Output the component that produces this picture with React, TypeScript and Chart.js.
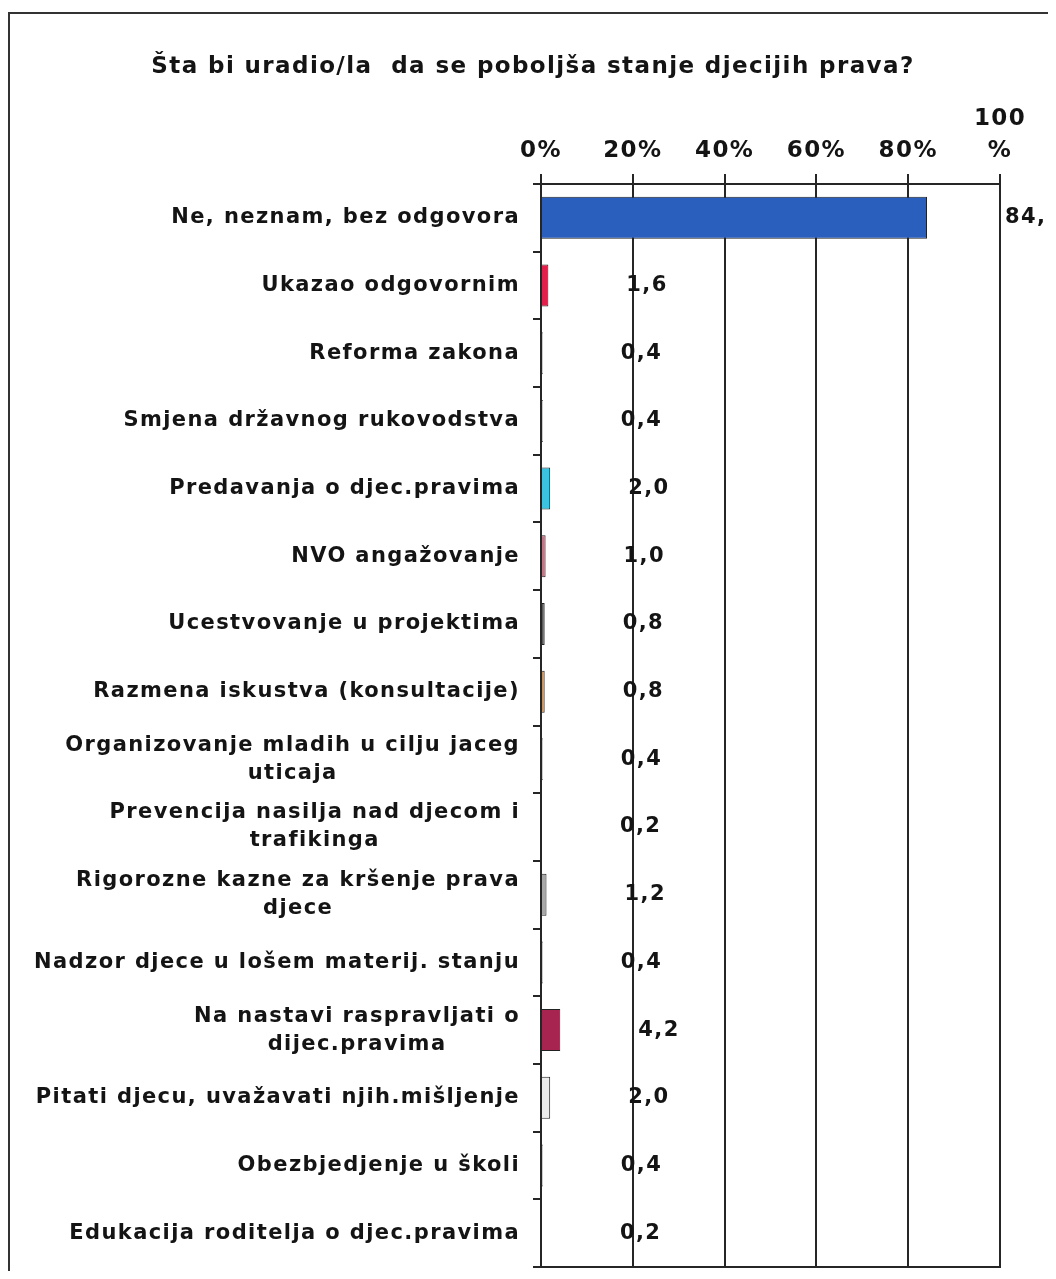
import React, { useEffect, useRef } from 'react';
import { Chart, registerables } from 'chart.js';

Chart.register(...registerables);

const TITLE = 'Šta bi uradio/la  da se poboljša stanje djecijih prava?';

const categories: string[][] = [
  ['Ne, neznam, bez odgovora'],
  ['Ukazao odgovornim'],
  ['Reforma zakona'],
  ['Smjena državnog rukovodstva'],
  ['Predavanja o djec.pravima'],
  ['NVO angažovanje'],
  ['Ucestvovanje u projektima'],
  ['Razmena iskustva (konsultacije)'],
  ['Organizovanje mladih u cilju jaceg', 'uticaja'],
  ['Prevencija nasilja nad djecom i', 'trafikinga'],
  ['Rigorozne kazne za kršenje prava', 'djece'],
  ['Nadzor djece u lošem materij. stanju'],
  ['Na nastavi raspravljati o', 'dijec.pravima'],
  ['Pitati djecu, uvažavati njih.mišljenje'],
  ['Obezbjedjenje u školi'],
  ['Edukacija roditelja o djec.pravima'],
];

const values: number[] = [84.1, 1.6, 0.4, 0.4, 2.0, 1.0, 0.8, 0.8, 0.4, 0.2, 1.2, 0.4, 4.2, 2.0, 0.4, 0.2];

const valueLabels: string[] = ['84,1', '1,6', '0,4', '0,4', '2,0', '1,0', '0,8', '0,8', '0,4', '0,2', '1,2', '0,4', '4,2', '2,0', '0,4', '0,2'];

const barColors: string[] = [
  '#2b5fbd', '#e21f4a', '#ffffff', '#ffffff', '#3cc3e0', '#c47585', '#5a5a5a', '#c8925e',
  '#ffffff', '#ffffff', '#a8a8a8', '#ffffff', '#a82450', '#ececec', '#ffffff', '#ffffff',
];

const xTicks: number[] = [0, 20, 40, 60, 80, 100];
const xTickLabels: string[][] = [['0%'], ['20%'], ['40%'], ['60%'], ['80%'], ['100', '%']];

const FONT = "'DejaVu Sans', Verdana, sans-serif";
const TEXT = '#141414';
const LINE = '#262626';
const LS = '1.4px';
const FS = 21;
const LH = 28;

const spacingPlugin = {
  id: 'spacing',
  beforeUpdate(chart: any) { chart.ctx.letterSpacing = LS; },
  beforeLayout(chart: any) { chart.ctx.letterSpacing = LS; },
  beforeDraw(chart: any) { chart.ctx.letterSpacing = LS; },
};

const yLabelPlugin = {
  id: 'yLabels',
  afterDraw(chart: any) {
    const ctx = chart.ctx;
    const ys = chart.scales.y;
    ctx.save();
    ctx.letterSpacing = LS;
    ctx.font = `bold ${FS}px ${FONT}`;
    ctx.fillStyle = TEXT;
    ctx.textBaseline = 'middle';
    ctx.textAlign = 'left';
    const right = chart.chartArea.left - 21;
    categories.forEach((lines, i) => {
      const cy = ys.getPixelForValue(i);
      const widths = lines.map((l) => ctx.measureText(l).width);
      const w = Math.max(...widths);
      const cx = right - w / 2;
      lines.forEach((l, j) => {
        ctx.fillText(l, cx - widths[j] / 2, cy + (j - (lines.length - 1) / 2) * LH);
      });
    });
    ctx.restore();
  },
};

const valueLabelPlugin = {
  id: 'valueLabels',
  afterDatasetsDraw(chart: any) {
    const ctx = chart.ctx;
    const xs = chart.scales.x;
    const meta = chart.getDatasetMeta(0);
    ctx.save();
    ctx.letterSpacing = LS;
    ctx.font = `bold ${FS}px ${FONT}`;
    ctx.fillStyle = TEXT;
    ctx.textBaseline = 'middle';
    ctx.textAlign = 'left';
    meta.data.forEach((bar: any, i: number) => {
      const x = xs.getPixelForValue(values[i]) + 78;
      ctx.fillText(valueLabels[i], x, bar.y);
    });
    ctx.restore();
  },
};

export default function App() {
  const ref = useRef<HTMLCanvasElement | null>(null);

  useEffect(() => {
    if (!ref.current) return;
    const chart = new Chart(ref.current, {
      type: 'bar',
      data: {
        labels: categories.map((c) => c.join(' ')),
        datasets: [
          {
            data: values,
            backgroundColor: barColors,
            borderColor: '#222222',
            borderWidth: 1,
            barPercentage: 0.62,
            categoryPercentage: 1,
          },
        ],
      },
      options: {
        indexAxis: 'y',
        animation: false,
        responsive: true,
        maintainAspectRatio: false,
        layout: { padding: { left: 0, right: 0, top: 0, bottom: 4 } },
        plugins: {
          legend: { display: false },
          tooltip: { enabled: false },
          title: {
            display: true,
            text: TITLE,
            color: TEXT,
            font: { family: FONT, size: 23, weight: 'bold', lineHeight: 1.2 },
            padding: { top: 39, bottom: 15 },
          },
        },
        scales: {
          x: {
            type: 'linear',
            position: 'top',
            min: 0,
            max: 100,
            afterBuildTicks: (scale: any) => {
              scale.ticks = xTicks.map((v) => ({ value: v }));
            },
            ticks: {
              color: TEXT,
              padding: 7,
              maxRotation: 0,
              font: { family: FONT, size: 23, weight: 'bold', lineHeight: 1.4 },
              callback: (v: any) => xTickLabels[xTicks.indexOf(Number(v))],
            },
            grid: {
              color: LINE,
              lineWidth: 2,
              drawTicks: true,
              tickLength: 10,
            },
            border: { display: true, color: LINE, width: 2 },
          },
          x2: {
            type: 'linear',
            position: 'bottom',
            min: 0,
            max: 100,
            ticks: { display: false },
            grid: { display: false, drawTicks: false },
            border: { display: true, color: LINE, width: 2 },
            afterFit: (scale: any) => { scale.height = 0; },
          },
          y: {
            type: 'category',
            position: 'left',
            ticks: { display: false },
            grid: {
              offset: true,
              drawOnChartArea: false,
              drawTicks: true,
              tickLength: 8,
              color: LINE,
              lineWidth: 2,
            },
            border: { display: true, color: LINE, width: 2 },
            afterFit: (scale: any) => { scale.width = 531; },
          },
          y2: {
            type: 'category',
            position: 'right',
            ticks: { display: false },
            grid: { display: false, drawTicks: false },
            border: { display: false },
            afterFit: (scale: any) => { scale.width = 56; },
          },
        },
      },
      plugins: [spacingPlugin, yLabelPlugin, valueLabelPlugin],
    } as any);
    return () => chart.destroy();
  }, []);

  return (
    <div style={{ paddingTop: 4 }}>
      <div
        style={{
          position: 'relative',
          width: 1048,
          height: 1259,
          boxSizing: 'border-box',
          borderTop: '2px solid #333',
          borderLeft: '2px solid #333',
          background: '#ffffff',
        }}
      >
        <div style={{ position: 'absolute', left: 0, top: 0, width: 1046, height: 1257 }}>
          <canvas ref={ref} />
        </div>
      </div>
    </div>
  );
}
